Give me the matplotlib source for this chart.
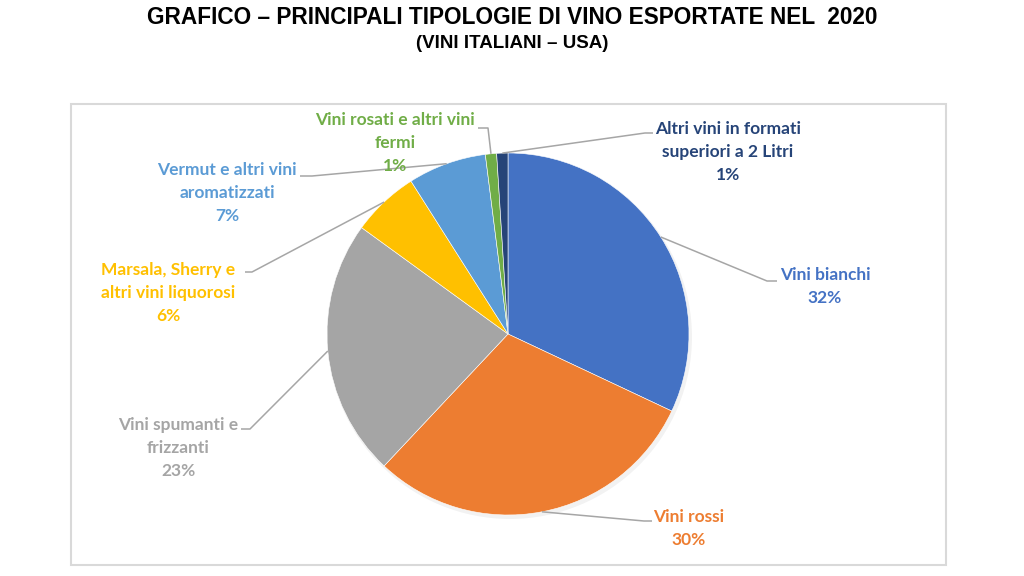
import numpy as np
import matplotlib
matplotlib.use("Agg")
import matplotlib.pyplot as plt
from matplotlib.patches import Rectangle

# ---- data ----
categories = [
    "Vini bianchi",
    "Vini rossi",
    "Vini spumanti e\nfrizzanti",
    "Marsala, Sherry e\naltri vini liquorosi",
    "Vermut e altri vini\naromatizzati",
    "Vini rosati e altri vini\nfermi",
    "Altri vini in formati\nsuperiori a 2 Litri",
]
shares = [32, 30, 23, 6, 7, 1, 1]
colors = ["#4472C4", "#ED7D31", "#A5A5A5", "#FFC000", "#5B9BD5", "#70AD47", "#264478"]
title = "GRAFICO – PRINCIPALI TIPOLOGIE DI VINO ESPORTATE NEL  2020"
subtitle = "(VINI ITALIANI – USA)"

# ---- layout (pixel coords, y from top) ----
W, H = 1024, 576
center = (508, 334)
radius = 181
label_pos = [
    (825, 275, "center"),
    (689, 517, "center"),
    (178, 425, "center"),
    (168, 270, "center"),
    (227, 170, "center"),
    (395, 120, "center"),
    (728, 129, "center"),
]
tails = [
    [(767, 281), (777, 281)],
    [(644, 521), (652, 521)],
    [(250, 429), (241, 429)],
    [(252, 272), (245, 272)],
    [(312, 176), (300, 176)],
    [(488, 128), (478, 128)],
    [(645, 133), (653, 133)],
]
line_step = 23

fig = plt.figure(figsize=(W / 100, H / 100), dpi=100)
ax = fig.add_axes([0, 0, 1, 1])

def Y(y):
    return H - y

ax.add_patch(Rectangle((71, Y(565)), 946 - 71, 565 - 104, fill=False,
                       edgecolor="#D9D9D9", lw=1.5))

shadow = plt.Circle((center[0] + 2, Y(center[1]) - 3), radius + 1,
                    color="#000000", alpha=0.05, lw=0)
ax.add_patch(shadow)

wedges, _ = ax.pie(shares, colors=colors, startangle=90, counterclock=False,
                   center=(center[0], Y(center[1])), radius=radius,
                   wedgeprops=dict(linewidth=0.4, edgecolor="white"),
                   frame=True)
ax.set_xlim(0, W)
ax.set_ylim(0, H)
ax.set_aspect("equal")
ax.axis("off")

fam = ["Lato", "DejaVu Sans"]
for i, w in enumerate(wedges):
    ang = np.deg2rad((w.theta1 + w.theta2) / 2)
    ax_x = center[0] + radius * np.cos(ang)
    ax_y = Y(center[1]) + radius * np.sin(ang)
    pts = [(ax_x, ax_y)] + [(px, Y(py)) for px, py in tails[i]]
    xs, ys = zip(*pts)
    ax.plot(xs, ys, color="#A6A6A6", lw=1.1, solid_capstyle="butt")
    lx, ly, ha = label_pos[i]
    lines = categories[i].split("\n") + [f"{shares[i]}%"]
    for k, t in enumerate(lines):
        ax.text(lx, Y(ly + k * line_step), t, ha=ha, va="center",
                color=colors[i], fontsize=12.5, fontweight="bold", family=fam)

fig.text(0.5, Y(18) / H, title, ha="center", va="center", fontsize=16.3,
         fontweight="bold", family=["Liberation Sans", "DejaVu Sans"])
fig.text(0.5, Y(43) / H, subtitle, ha="center", va="center", fontsize=13.5,
         fontweight="bold", family=["Liberation Sans", "DejaVu Sans"])

fig.savefig("out.png", dpi=100)
